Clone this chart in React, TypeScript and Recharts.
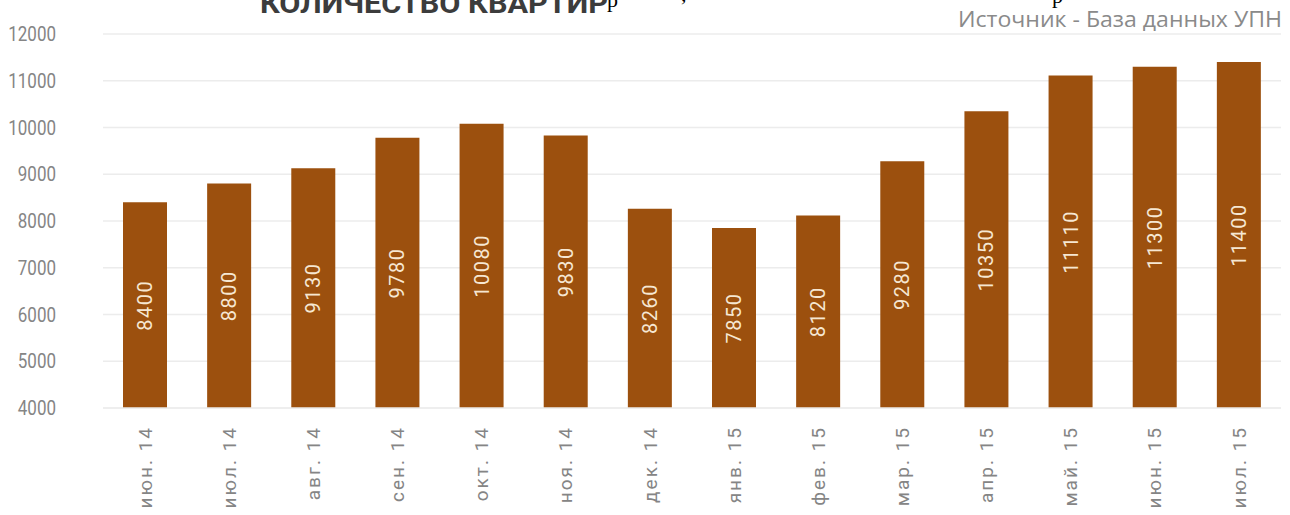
import React from "react";
import { BarChart, Bar, XAxis, YAxis, CartesianGrid, LabelList } from "recharts";

const months = [
  "июн. 14", "июл. 14", "авг. 14", "сен. 14", "окт. 14", "ноя. 14", "дек. 14",
  "янв. 15", "фев. 15", "мар. 15", "апр. 15", "май. 15", "июн. 15", "июл. 15",
];
const flats = [8400, 8800, 9130, 9780, 10080, 9830, 8260, 7850, 8120, 9280, 10350, 11110, 11300, 11400];
const yTicks = [4000, 5000, 6000, 7000, 8000, 9000, 10000, 11000, 12000];
const titleText = "КОЛИЧЕСТВО КВАРТИР";
const sourceText = "Источник - База данных УПН";

const data = months.map((m, i) => ({ month: m, value: flats[i] }));

const BAR = "#9C500E";
const GRID = "#ececec";
const AXIS_TXT = "#858585";

const XTick = (props: any) => {
  const { x, y, payload } = props;
  return (
    <g transform={`translate(${x},${y + 18})`}>
      <text
        transform="rotate(-90)"
        textAnchor="end"
        dy="0.35em"
        fill={AXIS_TXT}
        fontFamily="Roboto, sans-serif"
        fontSize={19}
        letterSpacing={2}
      >
        {payload.value}
      </text>
    </g>
  );
};

const YTick = (props: any) => {
  const { x, y, payload } = props;
  return (
    <g transform={`translate(${x - 47},${y}) scale(0.85,1)`}>
      <text textAnchor="end" dy="0.36em" fill={AXIS_TXT} fontFamily="Roboto, sans-serif" fontSize={20}>
        {payload.value}
      </text>
    </g>
  );
};

const BarLabel = (props: any) => {
  const { x, y, width, height, value } = props;
  const cx = x + width / 2;
  const cy = y + height / 2;
  return (
    <g transform={`translate(${cx},${cy})`}>
      <text
        transform="rotate(-90)"
        textAnchor="middle"
        dominantBaseline="central"
        fill="#f6e7d2"
        fontFamily="Roboto, sans-serif"
        fontSize={20}
        letterSpacing={1.5}
      >
        {value}
      </text>
    </g>
  );
};

export default function App() {
  return (
    <div style={{ position: "absolute", left: 0, top: 0, width: 1290, height: 515, background: "#fff", overflow: "hidden" }}>
      <BarChart width={1290} height={515} data={data} margin={{ top: 34, right: 9, bottom: 0, left: 0 }}>
        <CartesianGrid vertical={false} stroke={GRID} strokeWidth={1.5} />
        <XAxis
          dataKey="month"
          interval={0}
          tickLine={false}
          tickSize={0}
          tickMargin={0}
          axisLine={{ stroke: GRID, strokeWidth: 1.5 }}
          height={107}
          tick={<XTick />}
        />
        <YAxis
          domain={[4000, 12000]}
          ticks={yTicks}
          allowDataOverflow
          width={103}
          axisLine={false}
          tickLine={false}
          tickSize={0}
          tickMargin={0}
          tick={<YTick />}
        />
        <Bar dataKey="value" fill={BAR} barSize={44} isAnimationActive={false}>
          <LabelList dataKey="value" content={<BarLabel />} />
        </Bar>
      </BarChart>
      <svg width={1290} height={40} style={{ position: "absolute", left: 0, top: 0 }}>
        <text
          x={260}
          y={13}
          textLength={348}
          lengthAdjust="spacingAndGlyphs"
          fill="#3c3c3c"
          fontFamily="Roboto, sans-serif"
          fontWeight="bold"
          fontSize={28}
        >
          {titleText}
        </text>
        <text x={607} y={7} fill="#000" fontFamily="'Liberation Serif', serif" fontSize={22}>р</text>
        <text x={681} y={1} fill="#000" fontFamily="'Liberation Serif', serif" fontSize={22}>,</text>
        <text x={1052} y={3} fill="#000" fontFamily="'Liberation Serif', serif" fontSize={22}>р</text>
        <text
          x={958}
          y={27}
          textLength={324}
          lengthAdjust="spacingAndGlyphs"
          fill="#8a8a8a"
          fontFamily="'Open Sans', sans-serif"
          fontSize={21}
        >
          {sourceText}
        </text>
      </svg>
    </div>
  );
}
